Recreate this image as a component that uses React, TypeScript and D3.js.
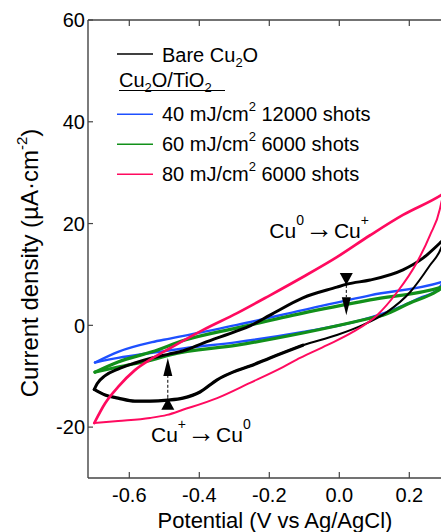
import React from 'react';
import * as d3 from 'd3';

type Pt = [number, number];

const WIDTH = 441;
const HEIGHT = 532;
const PLOT = { left: 88, top: 20, right: 445, bottom: 478 };

const xTicks = [-0.6, -0.4, -0.2, 0.0, 0.2];
const yTicks = [-20, 0, 20, 40, 60];

// Bare Cu2O, forward (anodic) and return (cathodic) scans
const bareForward: Pt[] = [
  [-0.7, -12.6], [-0.692, -11.5], [-0.669, -9.9], [-0.632, -8.6], [-0.584, -7.4],
  [-0.535, -6.4], [-0.489, -5.7], [-0.441, -4.9], [-0.389, -3.5], [-0.292, -1.1],
  [-0.255, -0.1], [-0.198, 2.0], [-0.104, 5.4], [-0.007, 7.5], [0.022, 8.1],
  [0.088, 8.9], [0.182, 10.9], [0.239, 13.2], [0.291, 16.4], [0.3, 17.0],
];
const bareReturn: Pt[] = [
  [0.3, 17.0], [0.291, 15.2], [0.259, 11.8], [0.202, 6.5], [0.136, 2.6],
  [0.068, 0.1], [-0.007, -1.9], [-0.104, -3.9], [-0.198, -6.4], [-0.255, -8.0],
  [-0.304, -9.2], [-0.349, -10.7], [-0.398, -13.1], [-0.447, -14.3], [-0.49, -14.7],
  [-0.541, -14.9], [-0.584, -14.9], [-0.632, -14.3], [-0.669, -13.7], [-0.7, -12.6],
];

// Cu2O/TiO2 40 mJ/cm2 12000 shots
const tio40Forward: Pt[] = [
  [-0.698, -7.3], [-0.632, -5.2], [-0.535, -3.3], [-0.484, -2.6], [-0.292, 0.1],
  [-0.104, 3.0], [0.088, 5.9], [0.291, 8.5], [0.3, 8.7],
];
const tio40Return: Pt[] = [
  [0.3, 8.7], [0.279, 6.9], [0.231, 5.4], [0.136, 2.6], [0.039, 0.6],
  [-0.104, -1.3], [-0.292, -3.3], [-0.441, -4.5], [-0.535, -5.4], [-0.632, -6.4],
  [-0.698, -7.3],
];

// Cu2O/TiO2 60 mJ/cm2 6000 shots
const tio60Forward: Pt[] = [
  [-0.698, -9.2], [-0.632, -7.2], [-0.535, -5.2], [-0.441, -2.9], [-0.292, -0.5],
  [-0.104, 2.4], [0.088, 5.0], [0.291, 7.5], [0.3, 7.7],
];
const tio60Return: Pt[] = [
  [0.3, 7.7], [0.279, 6.7], [0.202, 4.4], [0.125, 2.0], [0.088, 1.4],
  [-0.104, -1.5], [-0.292, -3.9], [-0.484, -5.8], [-0.535, -6.8], [-0.632, -8.2],
  [-0.698, -9.2],
];

// Cu2O/TiO2 80 mJ/cm2 6000 shots
const tio80Forward: Pt[] = [
  [-0.7, -19.2], [-0.669, -15.3], [-0.632, -12.1], [-0.584, -8.8], [-0.535, -6.5],
  [-0.484, -4.5], [-0.389, -0.9], [-0.292, 2.4], [-0.198, 5.9], [-0.104, 9.5],
  [-0.007, 13.4], [0.088, 17.7], [0.182, 21.7], [0.291, 25.6], [0.3, 26.0],
];
const tio80Return: Pt[] = [
  [0.3, 26.0], [0.291, 24.0], [0.288, 23.0], [0.259, 17.7], [0.222, 12.4],
  [0.165, 6.5], [0.108, 2.0], [0.039, -1.3], [-0.035, -3.9], [-0.112, -6.4],
  [-0.161, -8.2], [-0.255, -11.3], [-0.349, -14.3], [-0.447, -16.6], [-0.492, -17.6],
  [-0.541, -18.2], [-0.632, -18.8], [-0.7, -19.2],
];

const BLACK = '#000000';
const BLUE = '#1e50ff';
const GREEN = '#12901a';
const PINK = '#ff0a5f';

const legendRows = [
  { color: BLUE, dose: '40', shots: '12000 shots' },
  { color: GREEN, dose: '60', shots: '6000 shots' },
  { color: PINK, dose: '80', shots: '6000 shots' },
];

// redox peak markers: potential, where the arrow starts and where it points to
const peakArrows = [
  { v: 0.02, from: 10.3, to: 2.0 },
  { v: -0.49, from: -16.6, to: -6.4 },
];

const FONT = '"Liberation Sans", Arial, Helvetica, sans-serif';

const byV = (pts: Pt[]) => [...pts].sort((a, b) => a[0] - b[0]);

export default function App() {
  const x = d3.scaleLinear().domain([-0.718, 0.302]).range([PLOT.left, PLOT.right]);
  const y = d3.scaleLinear().domain([-30, 60]).range([PLOT.bottom, PLOT.top]);

  const line = d3
    .line<Pt>()
    .x((d) => x(d[0]))
    .y((d) => y(d[1]))
    .curve(d3.curveMonotoneX);

  const curves = [
    { data: tio40Forward, color: BLUE, w: 2.4 },
    { data: tio40Return, color: BLUE, w: 2.4 },
    { data: tio60Forward, color: GREEN, w: 3.2 },
    { data: tio60Return, color: GREEN, w: 3.2 },
    { data: bareForward, color: BLACK, w: 3 },
    { data: bareReturn, color: BLACK, w: 2 },
    { data: bareReturn.filter((d) => d[0] <= -0.1), color: BLACK, w: 3.2 },
    { data: tio80Forward, color: PINK, w: 2.7 },
    { data: tio80Return, color: PINK, w: 2 },
  ];

  const axisColor = '#444';

  return (
    <svg
      width={WIDTH}
      height={HEIGHT}
      style={{ position: 'absolute', left: 0, top: 0, background: '#fff' }}
      fontFamily={FONT}
    >
      {curves.map((c, i) => (
        <path
          key={`c${i}`}
          d={line(byV(c.data)) || ''}
          fill="none"
          stroke={c.color}
          strokeWidth={c.w}
          strokeLinejoin="round"
          strokeLinecap="round"
        />
      ))}

      {/* peak arrows */}
      {peakArrows.map((a, i) => {
        const cx = x(a.v);
        const y0 = y(a.from);
        const y1 = y(a.to);
        const dir = y1 > y0 ? 1 : -1;
        const tip1 = y0 + dir * 12;
        const base2 = y1 - dir * 18;
        return (
          <g key={`a${i}`}>
            <path d={`M${cx - 6.5},${y0} L${cx + 6.5},${y0} L${cx},${tip1} Z`} fill="#000" />
            <line x1={cx} x2={cx} y1={tip1} y2={base2} stroke="#000" strokeWidth={1} strokeDasharray="3,2" />
            <path d={`M${cx - 4.5},${base2} L${cx + 4.5},${base2} L${cx},${y1} Z`} fill="#000" />
          </g>
        );
      })}

      {/* annotations */}
      <text x={x(-0.2)} y={y(17.1)} fontSize={21} fill="#000">
        Cu<tspan dy={-13} fontSize={14}>0</tspan>
        <tspan dy={13} dx={1} fontSize={28}>→</tspan>
        <tspan dx={1}>Cu</tspan>
        <tspan dy={-13} fontSize={14}>+</tspan>
      </text>
      <text x={x(-0.538)} y={y(-22.9)} fontSize={21} fill="#000">
        Cu<tspan dy={-13} fontSize={14}>+</tspan>
        <tspan dy={13} dx={1} fontSize={28}>→</tspan>
        <tspan dx={1}>Cu</tspan>
        <tspan dy={-13} fontSize={14}>0</tspan>
      </text>

      {/* axes */}
      <line x1={PLOT.left} x2={WIDTH} y1={PLOT.top} y2={PLOT.top} stroke={axisColor} strokeWidth={1.4} />
      <line x1={PLOT.left} x2={WIDTH} y1={PLOT.bottom} y2={PLOT.bottom} stroke={axisColor} strokeWidth={1.4} />
      <line x1={PLOT.left} x2={PLOT.left} y1={PLOT.top} y2={PLOT.bottom} stroke={axisColor} strokeWidth={1.4} />

      {xTicks.map((t) => (
        <g key={`xt${t}`}>
          <line x1={x(t)} x2={x(t)} y1={PLOT.bottom} y2={PLOT.bottom - 6} stroke={axisColor} strokeWidth={1.2} />
          <line x1={x(t)} x2={x(t)} y1={PLOT.top} y2={PLOT.top + 6} stroke={axisColor} strokeWidth={1.2} />
          <text x={x(t)} y={PLOT.bottom + 24} fontSize={20} textAnchor="middle" fill="#000">
            {t.toFixed(1)}
          </text>
        </g>
      ))}
      {yTicks.map((t) => (
        <g key={`yt${t}`}>
          <line x1={PLOT.left} x2={PLOT.left + 5} y1={y(t)} y2={y(t)} stroke={axisColor} strokeWidth={1.2} />
          <text x={PLOT.left - 3} y={y(t)} dy="0.36em" fontSize={20} textAnchor="end" fill="#000">
            {String(t)}
          </text>
        </g>
      ))}

      <text x={275} y={528} fontSize={22} textAnchor="middle" fill="#000">
        Potential (V vs Ag/AgCl)
      </text>
      <text transform="translate(38,263) rotate(-90)" fontSize={24} textAnchor="middle" fill="#000">
        Current density (µA·cm<tspan dy={-11} fontSize={15}>-2</tspan>
        <tspan dy={11}>)</tspan>
      </text>

      {/* legend */}
      <line x1={117} x2={153} y1={54} y2={54} stroke={BLACK} strokeWidth={1.5} />
      <text x={162} y={61.5} fontSize={20} fill="#000">
        Bare Cu<tspan dy={5} fontSize={13}>2</tspan>
        <tspan dy={-5}>O</tspan>
      </text>
      <text x={119} y={87} fontSize={20} fill="#000">
        Cu<tspan dy={5} fontSize={13}>2</tspan>
        <tspan dy={-5}>O/TiO</tspan>
        <tspan dy={5} fontSize={13}>2</tspan>
      </text>
      <line x1={119} x2={225} y1={90.5} y2={90.5} stroke="#000" strokeWidth={1.2} />
      {legendRows.map((r, i) => {
        const ly = 114.3 + i * 30;
        return (
          <g key={`lg${i}`}>
            <line x1={117} x2={153} y1={ly} y2={ly} stroke={r.color} strokeWidth={1.5} />
            <text x={162} y={ly + 6.8} fontSize={20} fill="#000">
              {r.dose} mJ/cm<tspan dy={-10} fontSize={13}>2</tspan>
              <tspan dy={10}> {r.shots}</tspan>
            </text>
          </g>
        );
      })}
    </svg>
  );
}
